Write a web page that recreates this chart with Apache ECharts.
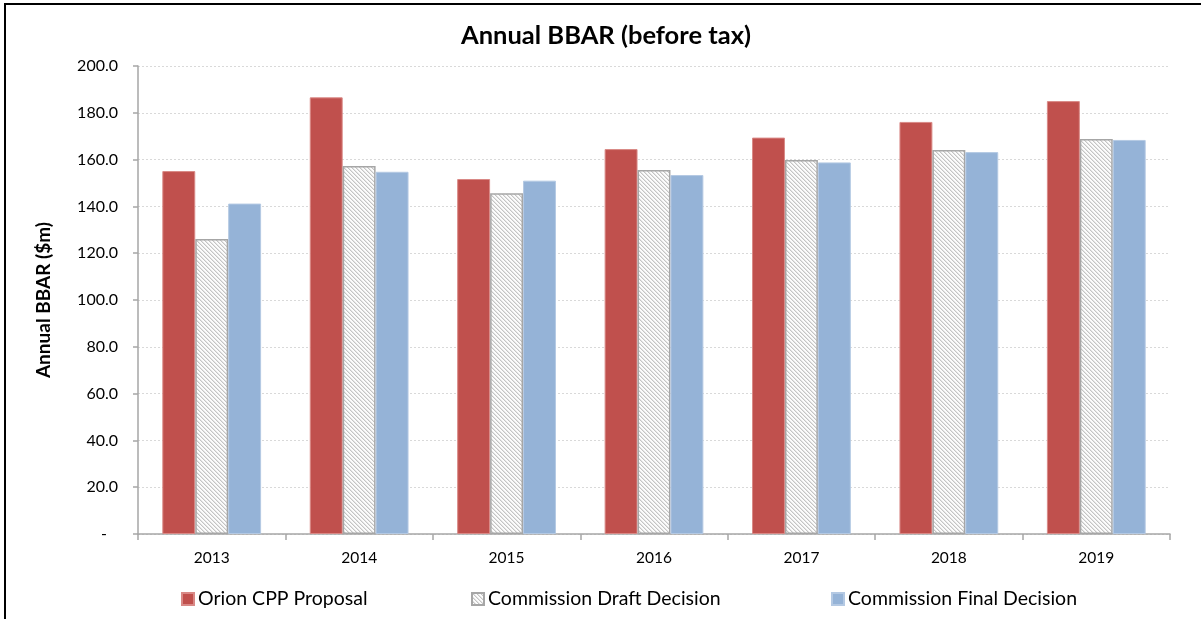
<!DOCTYPE html>
<html>
<head>
<meta charset="utf-8">
<title>Annual BBAR (before tax)</title>
<script src="https://cdn.jsdelivr.net/npm/echarts@6/dist/echarts.min.js"></script>
<style>
  html, body { margin: 0; padding: 0; background: #ffffff; }
  #chart { width: 1201px; height: 619px; }
</style>
</head>
<body>
<div id="chart"></div>
<script>
// Regulatory years
const years = ['2013', '2014', '2015', '2016', '2017', '2018', '2019'];

// Annual BBAR before tax, $m
const orionProposal = [155.1, 186.6, 151.7, 164.5, 169.4, 176.1, 185.0];
const draftDecision = [126.1, 157.3, 145.6, 155.6, 159.8, 164.1, 168.8];
const finalDecision = [141.2, 154.8, 151.0, 153.4, 158.8, 163.2, 168.4];

// Value axis ticks
const yTicks = [0, 20, 40, 60, 80, 100, 120, 140, 160, 180, 200];

const seriesNames = ['Orion CPP Proposal', 'Commission Draft Decision', 'Commission Final Decision'];

const FONT = 'Lato, "Open Sans", sans-serif';

// Diagonal hatch tile for the draft decision bars
function makeHatch() {
  const size = 4;
  const c = document.createElement('canvas');
  c.width = size; c.height = size;
  const ctx = c.getContext('2d');
  const img = ctx.createImageData(size, size);
  const shades = [196, 228, 252, 252];
  for (let y = 0; y < size; y++) {
    for (let x = 0; x < size; x++) {
      const k = ((x - y) % size + size) % size;
      const v = shades[k];
      const i = (y * size + x) * 4;
      img.data[i] = v; img.data[i + 1] = v; img.data[i + 2] = v; img.data[i + 3] = 255;
    }
  }
  ctx.putImageData(img, 0, 0);
  return c;
}
const hatch = { image: makeHatch(), repeat: 'repeat' };

const chart = echarts.init(document.getElementById('chart'), null, { renderer: 'canvas' });

const legendBase = {
  top: 584,
  icon: 'rect',
  itemWidth: 12,
  itemHeight: 12,
  itemGap: 6,
  textStyle: { fontFamily: FONT, fontSize: 19.5, color: '#000000', padding: [0, 0, 0, -1] },
  selectedMode: false
};

chart.setOption({
  animation: false,
  backgroundColor: '#ffffff',
  title: {
    text: 'Annual BBAR (before tax)',
    left: 601,
    textAlign: 'center',
    top: 18,
    textStyle: { fontFamily: FONT, fontSize: 25.5, fontWeight: 'bold', color: '#000000' }
  },
  graphic: [{
    type: 'rect',
    shape: { x: 5, y: 4, width: 1210, height: 640 },
    style: { fill: 'none', stroke: '#000000', lineWidth: 2 },
    silent: true,
    z: 100
  }],
  legend: [
    Object.assign({}, legendBase, { left: 176, data: [seriesNames[0]] }),
    Object.assign({}, legendBase, { left: 466, data: [seriesNames[1]] }),
    Object.assign({}, legendBase, { left: 826, data: [seriesNames[2]] })
  ],
  grid: { left: 138, right: 31, top: 66, bottom: 85, containLabel: false },
  xAxis: {
    type: 'category',
    data: years,
    axisLine: { show: true, lineStyle: { color: '#a6a6a6', width: 1.5 } },
    axisTick: { show: true, alignWithLabel: false, length: 6, lineStyle: { color: '#a6a6a6', width: 1.5 } },
    axisLabel: { fontFamily: FONT, fontSize: 15.5, color: '#000000', margin: 16 },
    splitLine: { show: false }
  },
  yAxis: {
    type: 'value',
    min: 0,
    max: 200,
    interval: 20,
    name: 'Annual BBAR ($m)',
    nameLocation: 'middle',
    nameRotate: 90,
    nameGap: 85,
    nameTextStyle: { fontFamily: FONT, fontSize: 19, fontWeight: 'bold', color: '#000000' },
    axisLine: { show: true, lineStyle: { color: '#a6a6a6', width: 1.5 } },
    axisTick: { show: true, inside: false, length: 5, lineStyle: { color: '#a6a6a6', width: 1.5 } },
    axisLabel: {
      fontFamily: FONT, fontSize: 16, color: '#000000', margin: 20,
      formatter: function (v) {
        return v === yTicks[0] ? '{dash|-}' : v.toFixed(1);
      },
      rich: {
        dash: { fontFamily: FONT, fontSize: 16, color: '#000000', padding: [0, 11, 0, 0] }
      }
    },
    splitLine: { show: true, lineStyle: { color: '#d9d9d9', type: [2, 2], width: 1 } }
  },
  series: [
    {
      name: seriesNames[0],
      type: 'bar',
      data: orionProposal,
      barGap: '0%',
      barCategoryGap: '33%',
      itemStyle: { color: '#C0504D', borderColor: '#d98986', borderWidth: 1 }
    },
    {
      name: seriesNames[1],
      type: 'bar',
      data: draftDecision,
      itemStyle: { color: hatch, borderColor: '#a6a6a6', borderWidth: 1.5 }
    },
    {
      name: seriesNames[2],
      type: 'bar',
      data: finalDecision,
      itemStyle: { color: '#95B3D7', borderColor: '#b4c9e3', borderWidth: 1 }
    }
  ]
});
</script>
</body>
</html>
